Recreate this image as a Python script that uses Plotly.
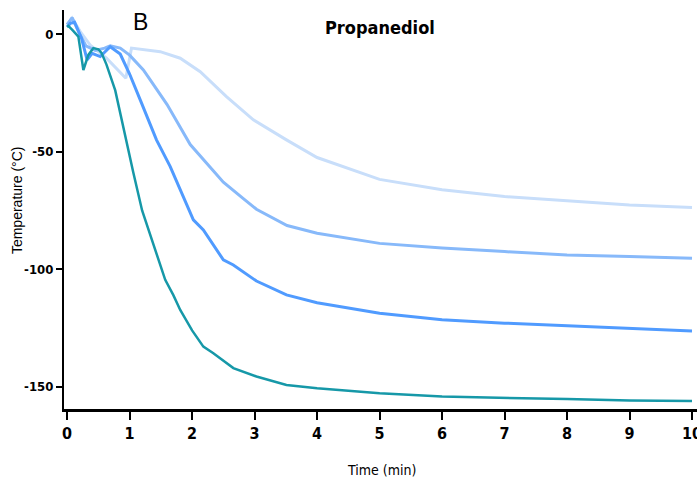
import plotly.graph_objects as go

# Cooling curves in propanediol: temperature (°C) against time (min)
t_teal = [0.0, 0.02, 0.09, 0.18, 0.26, 0.34, 0.42, 0.5, 0.55, 0.63, 0.77, 0.9, 1.06, 1.2, 1.38,
          1.57, 1.7, 1.81, 2.0, 2.18, 2.34, 2.5, 2.66, 3.03, 3.51, 4.0, 5.0, 6.0, 7.0, 8.0, 9.0, 10.0]
y_teal = [3, 3.4, 1.5, -1.1, -15.3, -8.9, -6, -6.5, -8, -13, -24, -40, -59, -75, -89,
          -104.5, -111, -117.3, -126, -132.9, -135.7, -139, -142, -145.6, -149.2, -150.6, -152.7,
          -154.1, -154.8, -155.2, -155.8, -156]

t_blue = [0.0, 0.05, 0.12, 0.23, 0.32, 0.4, 0.53, 0.69, 0.85, 1.0, 1.17, 1.33, 1.43, 1.65,
          2.02, 2.18, 2.5, 2.66, 3.03, 3.51, 4.0, 5.0, 6.0, 7.0, 8.0, 9.0, 10.0]
y_blue = [3, 4.5, 5, -1.8, -11, -8.2, -9.6, -5.4, -8.5, -17, -28, -38, -45, -56.4,
          -79, -83.3, -96, -98.2, -105, -110.9, -114.2, -118.7, -121.5, -122.9, -124, -125.4, -126.2]

t_mid = [0.0, 0.08, 0.2, 0.3, 0.45, 0.6, 0.69, 0.85, 1.0, 1.22, 1.33, 1.6, 1.97, 2.5, 2.82,
         3.03, 3.52, 4.0, 5.0, 6.0, 7.0, 8.0, 9.0, 10.0]
y_mid = [4, 7, 0, -5, -7, -6, -5, -6, -9, -15.3, -19.5, -30, -47, -63, -70,
         -74.5, -81.4, -84.7, -89, -91, -92.5, -93.9, -94.6, -95.3]

t_light = [0.0, 0.08, 0.21, 0.37, 0.63, 0.94, 1.03, 1.49, 1.81, 2.13, 2.55, 2.98, 3.51, 4.0,
           5.0, 6.0, 7.0, 8.0, 9.0, 10.0]
y_light = [4, 6.7, 1, -4.7, -10.3, -18.8, -6, -7.5, -10.3, -16, -26.6, -36.5, -45, -52.5,
           -61.8, -66.2, -69.1, -70.8, -72.7, -73.8]

x_ticks = [0, 1, 2, 3, 4, 5, 6, 7, 8, 9, 10]
x_labels = [str(v) for v in x_ticks]
y_ticks = [0, -50, -100, -150]
y_labels = ["0", "-50", "-100", "-150"]

series = [
    (t_light, y_light, "rgb(200,222,250)", 3),
    (t_mid, y_mid, "rgb(135,185,250)", 3),
    (t_blue, y_blue, "rgb(80,155,255)", 3),
    (t_teal, y_teal, "rgb(22,152,168)", 2.5),
]

fig = go.Figure()
for xs, ys, col, w in series:
    fig.add_trace(go.Scatter(x=xs, y=ys, mode="lines",
                             line=dict(color=col, width=w), showlegend=False))

narrow = "DejaVu Sans Condensed, Liberation Sans Narrow, Arial Narrow, Liberation Sans"
plain = "Liberation Sans, Arial"

fig.update_layout(
    width=697, height=486,
    margin=dict(l=64, r=0, t=10, b=77),
    plot_bgcolor="white", paper_bgcolor="white",
    xaxis=dict(range=[-0.05, 10.08], showgrid=False, zeroline=False, automargin=False,
               showline=True, linecolor="black", linewidth=2.5,
               ticks="outside", ticklen=8, tickwidth=2, tickcolor="black",
               tickvals=x_ticks, ticktext=x_labels, ticklabeloverflow="allow",
               tickfont=dict(family=narrow, size=16, color="black", weight="bold")),
    yaxis=dict(range=[-159.4, 10.2], showgrid=False, zeroline=False, automargin=False,
               showline=True, linecolor="black", linewidth=2,
               ticks="outside", ticklen=6, tickwidth=2, tickcolor="black",
               tickvals=y_ticks, ticktext=y_labels,
               tickfont=dict(family=narrow, size=13, color="black", weight="bold")),
    annotations=[
        dict(text="B", xref="paper", yref="paper", x=0.121, y=0.97,
             xanchor="center", yanchor="middle", showarrow=False,
             font=dict(family=plain, size=23, color="black")),
        dict(text="<b>Propanediol</b>", xref="paper", yref="paper", x=0.499, y=0.955,
             xanchor="center", yanchor="middle", showarrow=False,
             font=dict(family=narrow, size=18, color="black")),
        dict(text="Temperature (°C)", xref="paper", yref="paper", x=-0.074, y=0.524,
             xanchor="center", yanchor="middle", textangle=-90, showarrow=False,
             font=dict(family=plain, size=14, color="black")),
        dict(text="Time (min)", xref="paper", yref="paper", x=0.501, y=-0.153,
             xanchor="center", yanchor="middle", showarrow=False,
             font=dict(family=narrow, size=14, color="black")),
    ],
)

fig.write_html("out.html")
